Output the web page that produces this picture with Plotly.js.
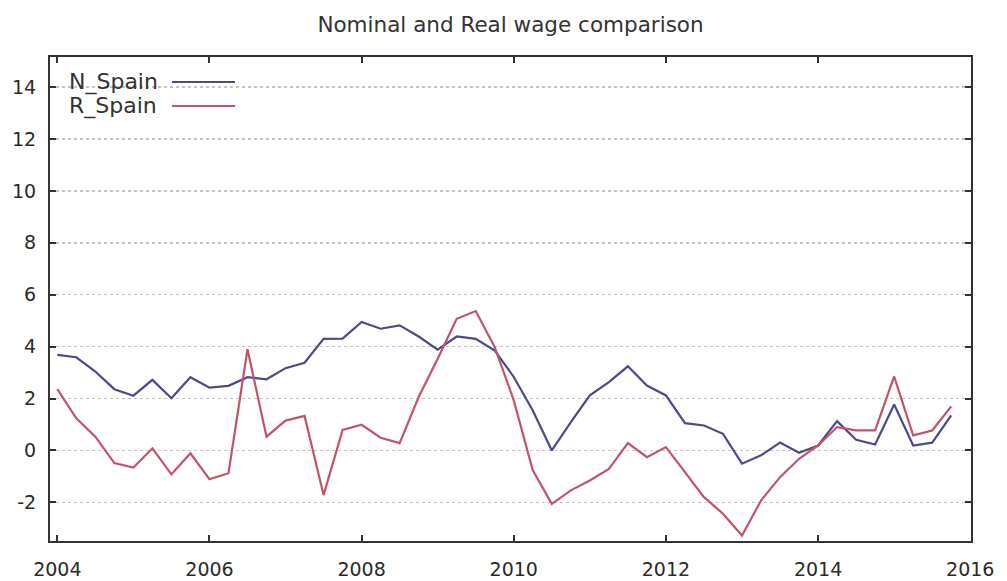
<!DOCTYPE html>
<html>
<head>
<meta charset="utf-8">
<script src="https://cdn.plot.ly/plotly-3.0.1.min.js"></script>
<style>
html,body{margin:0;padding:0;background:#fff;}
#chart{width:1007px;height:581px;}
</style>
</head>
<body>
<div id="chart"></div>
<script>
// Quarterly observations 2004Q1 .. 2015Q4
const quarters = [];
for (let yr = 2004; yr <= 2015; yr++) { for (let q = 0; q < 4; q++) quarters.push(yr + q * 0.25); }

const nSpain = [
  3.68, 3.59, 3.04, 2.36, 2.11, 2.72, 2.01, 2.82,
  2.42, 2.49, 2.82, 2.74, 3.17, 3.38, 4.30, 4.31,
  4.95, 4.69, 4.82, 4.39, 3.88, 4.39, 4.30, 3.85,
  2.83, 1.54, 0.00, 1.09, 2.12, 2.63, 3.24, 2.50,
  2.12, 1.05, 0.96, 0.64, -0.51, -0.19, 0.30, -0.09,
  0.19, 1.13, 0.41, 0.23, 1.77, 0.19, 0.30, 1.35
];
const rSpain = [
  2.36, 1.24, 0.53, -0.49, -0.66, 0.08, -0.92, -0.11,
  -1.11, -0.88, 3.90, 0.53, 1.15, 1.33, -1.72, 0.79,
  0.99, 0.49, 0.28, 2.06, 3.53, 5.07, 5.37, 3.98,
  1.93, -0.77, -2.06, -1.54, -1.16, -0.71, 0.28, -0.26,
  0.13, -0.83, -1.80, -2.44, -3.28, -1.93, -1.03, -0.32,
  0.19, 0.90, 0.77, 0.77, 2.85, 0.58, 0.77, 1.70
];
const seriesNames = ["N_Spain", "R_Spain"];
const seriesColors = ["#4b4b8a", "#c2546a"];
const xTickVals = [2004, 2006, 2008, 2010, 2012, 2014, 2016];
const xTickText = ["2004", "2006", "2008", "2010", "2012", "2014", "2016"];
const yTickVals = [-2, 0, 2, 4, 6, 8, 10, 12, 14];
const yTickText = ["-2", "0", "2", "4", "6", "8", "10", "12", "14"];
const titleText = "Nominal and Real wage comparison";

const traces = [nSpain, rSpain].map((vals, i) => ({
  x: quarters, y: vals, type: "scatter", mode: "lines",
  name: seriesNames[i],
  line: { color: seriesColors[i], width: 2.2 },
  showlegend: false
}));

const fontFam = "DejaVu Sans, Verdana, sans-serif";
const legendY = [0.9483, 0.8988];
const annotations = seriesNames.map((n, i) => ({
  xref: "paper", yref: "paper", x: 0.0185, y: legendY[i],
  xanchor: "left", yanchor: "middle", text: n, showarrow: false,
  font: { family: fontFam, size: 22, color: "#333" }
}));
const shapes = seriesNames.map((n, i) => ({
  type: "line", xref: "paper", yref: "paper",
  x0: 0.1325, x1: 0.2009, y0: legendY[i], y1: legendY[i],
  line: { color: seriesColors[i], width: 2.2 }
}));

const layout = {
  width: 1007, height: 581,
  margin: { l: 50, r: 36, t: 57, b: 40 },
  paper_bgcolor: "#fff", plot_bgcolor: "#fff",
  font: { family: fontFam, color: "#333" },
  title: {
    text: titleText, x: 0.5, xref: "paper", y: 1 - 24 / 581, yref: "container",
    xanchor: "center", yanchor: "middle",
    font: { family: fontFam, size: 21.5, color: "#333" }
  },
  xaxis: {
    range: [2003.904, 2016.01], tickmode: "array", tickvals: xTickVals, ticktext: xTickText,
    ticks: "inside", ticklen: 6, tickwidth: 2, tickcolor: "#333",
    showline: true, mirror: "ticks", linecolor: "#333", linewidth: 2,
    showgrid: false, zeroline: false, ticklabelstandoff: 10,
    tickfont: { family: fontFam, size: 19, color: "#2a2a2a" }
  },
  yaxis: {
    range: [-3.49, 15.16], tickmode: "array", tickvals: yTickVals, ticktext: yTickText,
    ticks: "inside", ticklen: 6, tickwidth: 2, tickcolor: "#333",
    showline: true, mirror: "ticks", linecolor: "#333", linewidth: 2,
    showgrid: true, gridcolor: "#c4c4c4", griddash: "dot", gridwidth: 1.5,
    zeroline: false, ticklabelstandoff: 8,
    tickfont: { family: fontFam, size: 19, color: "#2a2a2a" }
  },
  annotations: annotations,
  shapes: shapes,
  showlegend: false
};

Plotly.newPlot("chart", traces, layout, { displayModeBar: false, staticPlot: true });
</script>
</body>
</html>
